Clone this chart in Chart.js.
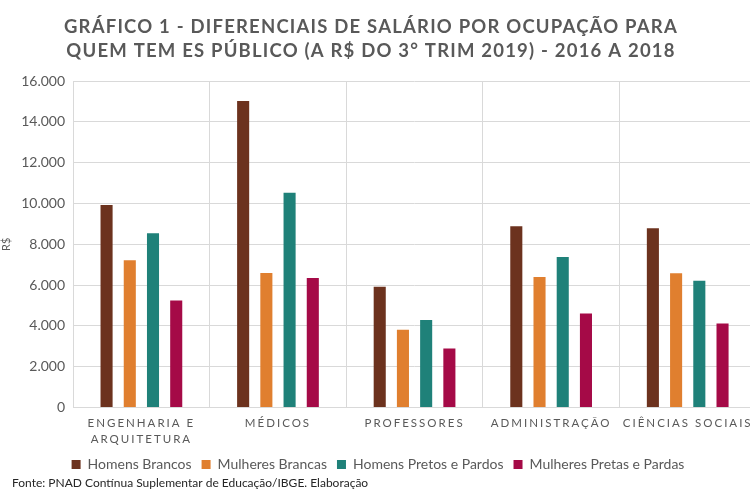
<!DOCTYPE html>
<html>
<head>
<meta charset="utf-8">
<script src="https://cdn.jsdelivr.net/npm/chart.js@4"></script>
<style>
  html, body { margin: 0; padding: 0; background: #fff; overflow: hidden; }
  #wrap { position: relative; width: 760px; height: 500px; }
</style>
</head>
<body>
<div id="wrap"><canvas id="myChart"></canvas></div>
<script>
const categories = [['ENGENHARIA E', 'ARQUITETURA'], 'MÉDICOS', 'PROFESSORES', 'ADMINISTRAÇÃO', 'CIÊNCIAS SOCIAIS'];
const homensBrancos = [9920, 15020, 5910, 8880, 8780];
const mulheresBrancas = [7210, 6590, 3810, 6400, 6580];
const homensPretos = [8540, 10530, 4290, 7370, 6210];
const mulheresPretas = [5240, 6340, 2890, 4600, 4120];
const yTicks = [0, 2000, 4000, 6000, 8000, 10000, 12000, 14000, 16000];
const footerText = 'Fonte: PNAD Contínua Suplementar de Educação/IBGE. Elaboração';

const TEXT = '#595959';
const LEGEND_TRIM = 14;

// canvas letterSpacing (and a small shift) for title, footer, legend and x labels
function spaced(obj, fn, sp, dx, dy, extra) {
    if (!obj || obj['_sp_' + fn]) return;
    const orig = obj[fn];
    obj[fn] = function () {
        const ctx = this.ctx;
        ctx.save();
        ctx.letterSpacing = sp;
        ctx.translate(dx, dy);
        this.bottom += extra || 0;
        orig.apply(this, arguments);
        this.bottom -= extra || 0;
        ctx.restore();
    };
    obj['_sp_' + fn] = true;
}
const spacingPlugin = {
    id: 'spacing',
    beforeLayout(chart) {
        const lg = chart.legend;
        if (lg && !lg._fitWrapped) {
            const fit = lg.fit;
            lg.fit = function () {
                fit.apply(this, arguments);
                this.height -= LEGEND_TRIM;
            };
            lg._fitWrapped = true;
        }
    },
    beforeDraw(chart) {
        const sub = chart.boxes.find(b => b.options && b.options.text === footerText);
        spaced(chart.titleBlock, 'draw', '1.2px', -7, 0);
        spaced(sub, 'draw', '0px', 12, 0);
        spaced(chart.legend, 'draw', '0px', 0, -8, LEGEND_TRIM + 8);
        spaced(chart.scales.x, 'drawLabels', '2px', 0, 0);
    }
};

new Chart(document.getElementById('myChart'), {
    type: 'bar',
    data: {
        labels: categories,
        datasets: [
            { label: 'Homens Brancos', data: homensBrancos, backgroundColor: '#6C321E' },
            { label: 'Mulheres Brancas', data: mulheresBrancas, backgroundColor: '#E07F2F' },
            { label: 'Homens Pretos e Pardos', data: homensPretos, backgroundColor: '#1F8179' },
            { label: 'Mulheres Pretas e Pardas', data: mulheresPretas, backgroundColor: '#A50A47' }
        ]
    },
    options: {
        responsive: true,
        maintainAspectRatio: false,
        animation: false,
        devicePixelRatio: 1,
        categoryPercentage: 0.68,
        barPercentage: 0.52,
        layout: { padding: { left: 0, right: 4 } },
        plugins: {
            title: {
                display: true,
                text: ['GRÁFICO 1 - DIFERENCIAIS DE SALÁRIO POR OCUPAÇÃO PARA', 'QUEM TEM ES PÚBLICO (A R$ DO 3° TRIM 2019) - 2016 A 2018'],
                color: TEXT,
                font: { family: 'Lato', size: 18.5, weight: 'bold', lineHeight: 1.3 },
                padding: { top: 15, bottom: 18 }
            },
            subtitle: {
                display: true,
                position: 'bottom',
                align: 'start',
                text: footerText,
                color: '#262626',
                font: { family: 'Lato', size: 12 },
                padding: { top: 0, bottom: 10 }
            },
            legend: {
                position: 'bottom',
                labels: {
                    color: TEXT,
                    font: { family: 'Lato', size: 14 },
                    boxWidth: 9,
                    boxHeight: 9,
                    padding: 10
                }
            },
            tooltip: { enabled: false }
        },
        scales: {
            x: {
                grid: { color: '#D9D9D9', offset: true, drawTicks: false },
                border: { color: '#D9D9D9' },
                ticks: {
                    color: TEXT,
                    font: { family: 'Lato', size: 11.5, lineHeight: 1.4 },
                    maxRotation: 0,
                    autoSkip: false,
                    padding: 8
                }
            },
            y: {
                min: 0,
                max: 16000,
                afterBuildTicks(scale) {
                    scale.ticks = yTicks.map(v => ({ value: v }));
                },
                grid: { color: '#D9D9D9', drawTicks: false },
                border: { display: false },
                ticks: {
                    color: TEXT,
                    font: { family: 'Lato', size: 14 },
                    padding: 8,
                    callback: v => v.toLocaleString('pt-BR')
                },
                title: {
                    display: true,
                    text: 'R$',
                    color: TEXT,
                    font: { family: 'Lato', size: 11 },
                    padding: { top: 0, bottom: 0 }
                }
            }
        }
    },
    plugins: [spacingPlugin]
});
</script>
</body>
</html>
